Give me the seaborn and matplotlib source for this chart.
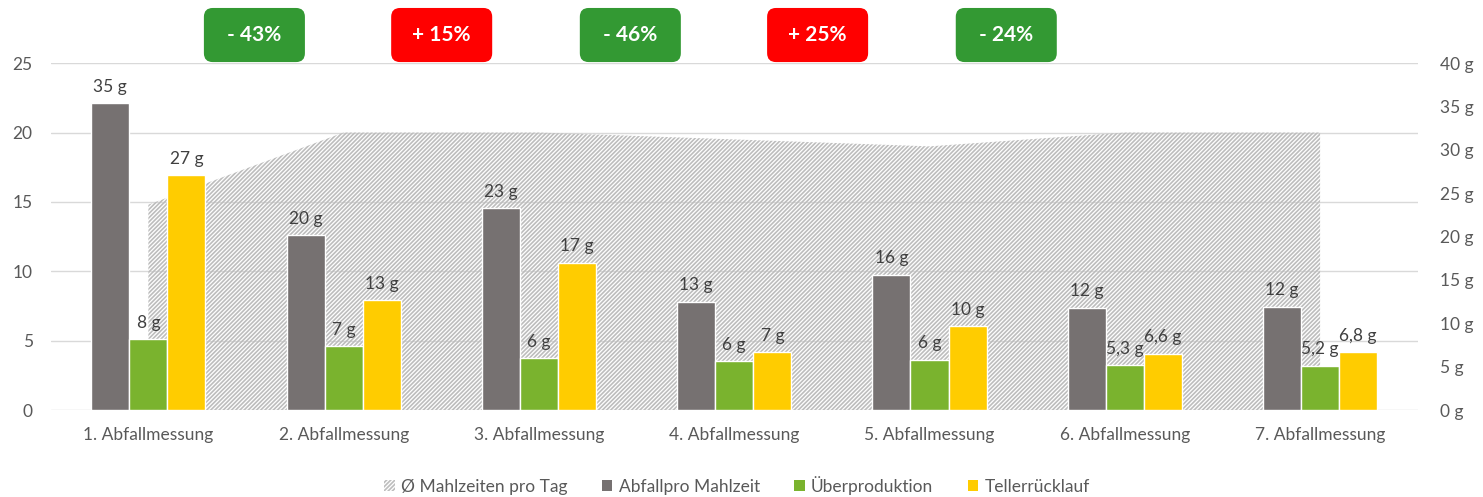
# Abfallmessungen: waste per meal vs. meals per day, Excel-like combo chart

import matplotlib
matplotlib.use('Agg')
import numpy as np
import pandas as pd
import matplotlib.pyplot as plt
from matplotlib.patches import Patch, FancyBboxPatch
import seaborn as sns

sns.set_style('white')
plt.rcParams['font.family'] = ['Lato', 'DejaVu Sans']
plt.rcParams['hatch.linewidth'] = 1.2

FONT_SIZE = 12.5
TEXT_GREY = '#595959'
LABEL_GREY = '#404040'
GRID_GREY = '#D9D9D9'
HATCH_GREY = '#BDBDBD'
HATCH = '////////'

#----------------------------------------------------------------------------------------------------------------
# Data
#----------------------------------------------------------------------------------------------------------------
categories = ['1. Abfallmessung', '2. Abfallmessung', '3. Abfallmessung', '4. Abfallmessung',
              '5. Abfallmessung', '6. Abfallmessung', '7. Abfallmessung']

# left axis, hatched area
meals_per_day = [14.8, 20, 20, 19.5, 19.0, 20, 20]

# right axis, grams
waste_per_meal = [35.4, 20.2, 23.3, 12.5, 15.6, 11.8, 11.9]
overproduction = [8.2, 7.4, 6.0, 5.6, 5.8, 5.2, 5.1]
plate_return   = [27.1, 12.7, 17.0, 6.7, 9.7, 6.5, 6.7]

waste_labels = ['35 g', '20 g', '23 g', '13 g', '16 g', '12 g', '12 g']
over_labels  = ['8 g', '7 g', '6 g', '6 g', '6 g', '5,3 g', '5,2 g']
plate_labels = ['27 g', '13 g', '17 g', '7 g', '10 g', '6,6 g', '6,8 g']

changes = ['- 43%', '+ 15%', '- 46%', '+ 25%', '- 24%']

series_names  = ['Abfallpro Mahlzeit', 'Überproduktion', 'Tellerrücklauf']
series_colors = ['#767171', '#7AB32E', '#FFCC00']
area_name = 'Ø Mahlzeiten pro Tag'

df = pd.DataFrame({
    'messung': categories * 3,
    'serie': np.repeat(series_names, len(categories)),
    'gramm': waste_per_meal + overproduction + plate_return,
})

#----------------------------------------------------------------------------------------------------------------
# Figure
#----------------------------------------------------------------------------------------------------------------
fig = plt.figure(figsize=(14.83, 4.97), dpi=100)
rect = [0.0342, 0.175, 0.9218, 0.698]
ax_area = fig.add_axes(rect)
ax_bar = fig.add_axes(rect)

# hatched area (left axis)
x_area = np.arange(len(categories))
ax_area.fill_between(x_area, meals_per_day, facecolor='none', edgecolor=HATCH_GREY,
                     hatch=HATCH, linewidth=0)
ax_area.set_xlim(-0.5, len(categories) - 0.5)
ax_area.set_ylim(0, 25)
ax_area.set_yticks(range(0, 26, 5))
ax_area.set_xticks([])
ax_area.set_axisbelow(True)
ax_area.grid(axis='y', color=GRID_GREY, linewidth=1)
ax_area.tick_params(axis='y', length=0, pad=13, labelsize=FONT_SIZE, labelcolor=TEXT_GREY)
for s in ax_area.spines.values():
    s.set_visible(False)

# bars (right axis)
sns.barplot(data=df, x='messung', y='gramm', hue='serie', hue_order=series_names,
            palette=series_colors, width=0.585, gap=0, saturation=1, errorbar=None,
            legend=False, ax=ax_bar)
ax_bar.patch.set_visible(False)
ax_bar.set_xlim(-0.5, len(categories) - 0.5)
ax_bar.set_ylim(0, 40)
ax_bar.yaxis.tick_right()
ax_bar.set_yticks(range(0, 41, 5))
ax_bar.set_yticklabels(['%d g' % v for v in range(0, 41, 5)])
ax_bar.set_xlabel('')
ax_bar.set_ylabel('')
ax_bar.tick_params(axis='y', length=0, pad=16, labelsize=FONT_SIZE, labelcolor=TEXT_GREY)
ax_bar.tick_params(axis='x', length=0, pad=12, labelsize=FONT_SIZE, labelcolor=TEXT_GREY)
for s in ax_bar.spines.values():
    s.set_visible(False)

for cont, labs in zip(ax_bar.containers, [waste_labels, over_labels, plate_labels]):
    ax_bar.bar_label(cont, labels=labs, padding=6, fontsize=FONT_SIZE, color=LABEL_GREY)

# change badges above the chart
badge_x = [0.149, 0.286, 0.424, 0.561, 0.699]   # centres in axes fraction
badge_w, badge_h, badge_y = 0.0739, 0.156, 1.003
aspect = 1367 / 347
for txt, cx in zip(changes, badge_x):
    color = '#339933' if txt.startswith('-') else '#FF0000'
    box = FancyBboxPatch((cx - badge_w / 2, badge_y), badge_w, badge_h,
                         boxstyle='round,pad=0,rounding_size=0.0065', mutation_aspect=aspect,
                         transform=ax_bar.transAxes, clip_on=False, facecolor=color, edgecolor='none')
    ax_bar.add_artist(box)
    ax_bar.text(cx, badge_y + badge_h / 2, txt, transform=ax_bar.transAxes, ha='center', va='center',
                color='white', fontsize=15, fontweight='bold')

# legend
handles = [Patch(facecolor='white', edgecolor=HATCH_GREY, hatch=HATCH, linewidth=0, label=area_name)]
for n, c in zip(series_names, series_colors):
    handles.append(Patch(facecolor=c, edgecolor='none', label=n))
fig.legend(handles=handles, loc='center', bbox_to_anchor=(0.497, 0.024), ncol=4, frameon=False,
           fontsize=FONT_SIZE, handlelength=0.6, handleheight=0.6, handletextpad=0.35,
           columnspacing=2.0, labelcolor=TEXT_GREY)

fig.savefig('out.png', dpi=100)
plt.close()
